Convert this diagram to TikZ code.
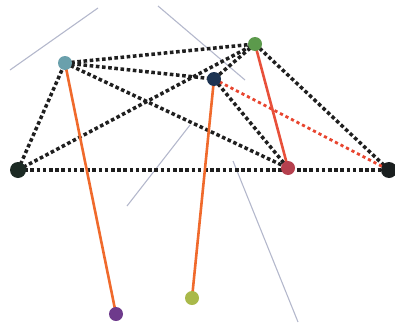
\documentclass[tikz,border=0pt]{standalone}
\begin{document}
\begin{tikzpicture}[x=1pt,y=-1pt,
  dotline/.style={line width=3.5pt,dash pattern=on 3.6pt off 2.6pt,color=black!88},
  reddot/.style={line width=2.8pt,dash pattern=on 3.2pt off 3pt,color=redline},
  stick/.style={line width=2.6pt,color=stickorange},
  greyline/.style={line width=1.1pt,color=greyblue},
  ball/.style={circle,inner sep=0pt,minimum size=#1},
  ball/.default=14pt]
\definecolor{redline}{HTML}{E8452F}
\definecolor{stickorange}{HTML}{F06A2C}
\definecolor{stickred}{HTML}{E8503A}
\definecolor{greyblue}{HTML}{B4B8CC}
\definecolor{ca}{HTML}{1C2A24}
\definecolor{cb}{HTML}{6AA0AC}
\definecolor{cc}{HTML}{5C9A4C}
\definecolor{cd}{HTML}{1D3452}
\definecolor{ce}{HTML}{B5404E}
\definecolor{cf}{HTML}{1A1F1F}
\definecolor{cg}{HTML}{6E3A8C}
\definecolor{ch}{HTML}{A9B94A}
\useasboundingbox (0,0) rectangle (395,329);
% thin grey strokes
\draw[greyline] (10,70) -- (98,8);
\draw[greyline] (158,6) -- (245,80);
\draw[greyline] (190,125) -- (127,206);
\draw[greyline] (233,161) -- (298,322);
% vertices
\node[ball=16pt] (a) at (18,170) {};
\node[ball] (b) at (65,63) {};
\node[ball] (c) at (255,44) {};
\node[ball] (d) at (214,79) {};
\node[ball] (e) at (288,168) {};
\node[ball=16pt] (f) at (389,170) {};
\node[ball] (g) at (116,314) {};
\node[ball] (h) at (192,298) {};
% dotted frame
\draw[dotline] (a.center) -- (b.center);
\draw[dotline] (a.center) -- (c.center);
\draw[dotline] (a.center) -- (f.center);
\draw[dotline] (b.center) -- (c.center);
\draw[dotline] (b.center) -- (d.center);
\draw[dotline] (b.center) -- (e.center);
\draw[dotline] (c.center) -- (d.center);
\draw[dotline] (c.center) -- (f.center);
\draw[dotline] (d.center) -- (e.center);
\draw[reddot] (d.center) -- (f.center);
% solid sticks
\draw[stick] (b.center) -- (g.center);
\draw[stick] (d.center) -- (h.center);
\draw[stick,color=stickred] (c.center) -- (e.center);
% balls painted over the line ends
\foreach \n/\col/\s in {a/ca/16pt,b/cb/14pt,c/cc/14pt,d/cd/14pt,e/ce/14pt,f/cf/16pt,g/cg/14pt,h/ch/14pt}
  \fill[\col] (\n.center) circle[radius=\s/2];
\end{tikzpicture}
\end{document}
